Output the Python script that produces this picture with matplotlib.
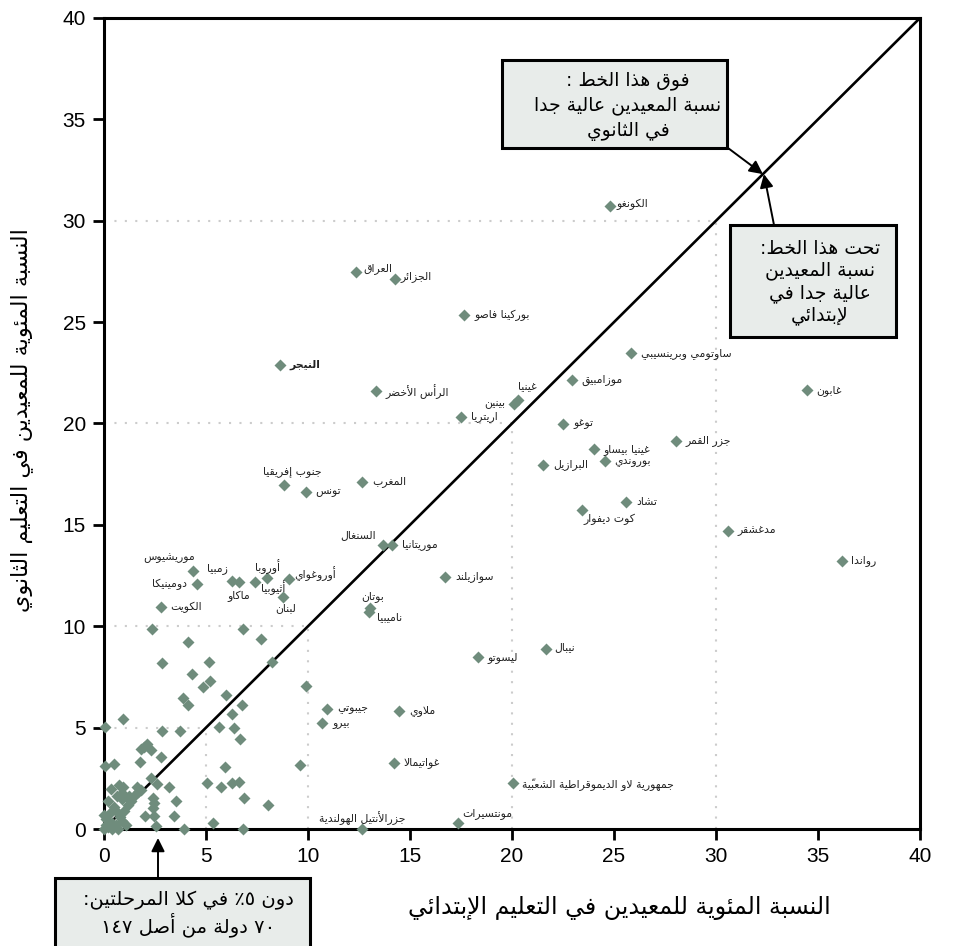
import re

import matplotlib
matplotlib.use("Agg")
import matplotlib.pyplot as plt
from matplotlib.patches import Rectangle

plt.rcParams["font.family"] = ["Liberation Sans", "DejaVu Sans"]

# repetition rates (%): primary (x) vs secondary (y)
LABELLED_NAMES = [
    "الكونغو", "العراق", "الجزائر", "بوركينا فاصو", "النيجر", "الرأس الأخضر",
    "اريتريا", "غينيا", "بينين", "ساوتومي وبرينسيبي", "موزامبيق", "توغو",
    "جزر القمر", "غينيا بيساو", "بوروندي", "البرازيل", "تشاد", "كوت ديفوار",
    "غابون", "مدغشقر", "رواندا", "جنوب إفريقيا", "تونس", "المغرب", "السنغال",
    "موريتانيا", "سوازيلند", "بوتان", "ناميبيا", "ليسوتو", "نيبال", "جيبوتي",
    "بيرو", "ملاوي", "غواتيمالا", "جمهورية لاو الديموقراطية الشعبيّة",
    "مونتسيرات", "جزرالأنتيل الهولندية", "موريشيوس", "دومينيكا", "الكويت",
    "زمبيا", "ماكاو", "أوروبا", "أثيوبيا", "أوروغواي", "لبنان",
]
LABELLED_PRIMARY = [
    24.8, 12.35, 14.26, 17.66, 8.63, 13.33,
    17.5, 20.3, 20.1, 25.83, 22.93, 22.52,
    28.02, 24.0, 24.56, 21.54, 25.6, 23.42,
    34.44, 30.57, 36.16, 8.84, 9.9, 12.65, 13.69,
    14.12, 16.74, 13.05, 12.98, 18.33, 21.67, 10.95,
    10.71, 14.47, 14.23, 20.03,
    17.36, 12.66, 4.38, 4.54, 2.79,
    6.26, 6.63, 7.42, 7.97, 9.07, 8.79,
]
LABELLED_SECONDARY = [
    30.74, 27.46, 27.13, 25.35, 22.87, 21.59,
    20.34, 21.15, 20.98, 23.46, 22.14, 19.98,
    19.14, 18.72, 18.17, 17.97, 16.12, 15.73,
    21.65, 14.70, 13.23, 16.97, 16.64, 17.13, 14.01,
    14.01, 12.45, 10.91, 10.72, 8.47, 8.86, 5.93,
    5.23, 5.82, 3.27, 2.25,
    0.30, 0.0, 12.74, 12.07, 10.93,
    12.23, 12.17, 12.18, 12.38, 12.33, 11.46,
]

OTHER_PRIMARY = [
    2.37, 6.80, 4.13, 7.68, 2.83, 5.16, 8.22, 4.30, 5.20, 4.84, 9.90, 5.96,
    3.86, 4.10, 6.78, 6.26, 0.95, 0.05, 2.86, 3.73, 5.65, 6.39, 6.67, 1.96,
    2.09, 1.81, 2.30, 2.79, 1.76, 0.05, 0.51, 9.61, 5.93, 2.30, 2.58, 3.20,
    5.03, 5.72, 6.26, 6.62, 0.75, 0.95, 0.34, 1.60, 1.68, 0.87, 2.42, 2.47,
    3.53, 6.86, 8.02, 2.01, 2.47, 3.45, 5.36, 2.55, 3.94, 6.80, 1.24, 0.62,
    2.42,
    0.0, 0.2, 0.4, 0.1, 0.6, 0.8, 0.3, 1.0, 0.5, 1.2, 0.9, 0.0, 0.7, 1.3,
    0.2, 1.1, 0.4, 1.5, 0.9, 0.6, 0.1, 1.8,
]
OTHER_SECONDARY = [
    9.86, 9.85, 9.22, 9.39, 8.17, 8.25, 8.25, 7.66, 7.32, 7.02, 7.07, 6.61,
    6.44, 6.10, 6.10, 5.66, 5.43, 5.01, 4.85, 4.85, 5.05, 5.00, 4.44, 4.06,
    4.19, 3.93, 3.90, 3.53, 3.32, 3.12, 3.19, 3.16, 3.07, 2.53, 2.20, 2.06,
    2.25, 2.06, 2.25, 2.30, 2.17, 2.09, 1.96, 2.09, 1.84, 1.76, 1.55, 1.30,
    1.38, 1.55, 1.18, 0.64, 0.64, 0.64, 0.31, 0.16, 0.0, 0.0, 1.63, 1.63,
    1.02,
    0.0, 0.1, 0.3, 0.5, 0.2, 0.6, 0.8, 0.9, 1.1, 1.2, 0.4, 0.7, 0.0, 1.4,
    1.4, 0.2, 0.0, 1.7, 1.5, 0.9, 0.2, 1.9,
]

TICKS = list(range(0, 41, 5))
GUIDES = [5, 10, 20, 30]

X_LABEL = "النسبة المئوية للمعيدين في التعليم الإبتدائي"
Y_LABEL = "النسبة المئوية للمعيدين في التعليم الثانوي"
ABOVE_NOTE = ["فوق هذا الخط :", "نسبة المعيدين عالية جدا", "في الثانوي"]
BELOW_NOTE = ["تحت هذا الخط:", "نسبة المعيدين", "عالية جدا في", "لإبتدائي"]
LOW_NOTE = ["دون ٥٪ في كلا المرحلتين:", "٧٠ دولة من أصل ١٤٧"]

# label offsets in points (dx, dy, ha) where they differ from "just right of the marker"
LABEL_PLACE = {
    "غينيا": (0, 10, "left"),
    "بينين": (-6, 0, "right"),
    "كوت ديفوار": (1, -7, "left"),
    "السنغال": (-5, 7, "right"),
    "بوتان": (2, 8, "center"),
    "ناميبيا": (6, -4, "left"),
    "مونتسيرات": (3, 7, "left"),
    "جزرالأنتيل الهولندية": (0, 8, "center"),
    "جنوب إفريقيا": (6, 10, "center"),
    "موريشيوس": (1, 9, "right"),
    "دومينيكا": (-7, 0, "right"),
    "زمبيا": (-3, 9, "right"),
    "ماكاو": (0, -10, "center"),
    "أوروبا": (0, 11, "left"),
    "أثيوبيا": (5, -7, "center"),
    "أوروغواي": (4, 4, "left"),
    "لبنان": (2, -8, "center"),
    "العراق": (5, 2.5, "left"),
    "الجزائر": (4, 1.5, "left"),
    "نيبال": (6, 2, "left"),
    "الكونغو": (5, 1, "left"),
}

# --- minimal Arabic shaping (matplotlib draws glyphs left to right, unjoined) ---
_BASES = [
    ("\u0621", 0xFE80, 1), ("\u0622", 0xFE81, 2), ("\u0623", 0xFE83, 2),
    ("\u0624", 0xFE85, 2), ("\u0625", 0xFE87, 2), ("\u0626", 0xFE89, 4),
    ("\u0627", 0xFE8D, 2), ("\u0628", 0xFE8F, 4), ("\u0629", 0xFE93, 2),
    ("\u062A", 0xFE95, 4), ("\u062B", 0xFE99, 4), ("\u062C", 0xFE9D, 4),
    ("\u062D", 0xFEA1, 4), ("\u062E", 0xFEA5, 4), ("\u062F", 0xFEA9, 2),
    ("\u0630", 0xFEAB, 2), ("\u0631", 0xFEAD, 2), ("\u0632", 0xFEAF, 2),
    ("\u0633", 0xFEB1, 4), ("\u0634", 0xFEB5, 4), ("\u0635", 0xFEB9, 4),
    ("\u0636", 0xFEBD, 4), ("\u0637", 0xFEC1, 4), ("\u0638", 0xFEC5, 4),
    ("\u0639", 0xFEC9, 4), ("\u063A", 0xFECD, 4), ("\u0641", 0xFED1, 4),
    ("\u0642", 0xFED5, 4), ("\u0643", 0xFED9, 4), ("\u0644", 0xFEDD, 4),
    ("\u0645", 0xFEE1, 4), ("\u0646", 0xFEE5, 4), ("\u0647", 0xFEE9, 4),
    ("\u0648", 0xFEED, 2), ("\u0649", 0xFEEF, 2), ("\u064A", 0xFEF1, 4),
]
FORMS = {ch: [chr(start + k) for k in range(n)] for ch, start, n in _BASES}
LAM_ALEF = {"\u0622": ("\uFEF5", "\uFEF6"), "\u0623": ("\uFEF7", "\uFEF8"),
            "\u0625": ("\uFEF9", "\uFEFA"), "\u0627": ("\uFEFB", "\uFEFC")}
MARKS = set(chr(c) for c in range(0x064B, 0x0653))


def _neighbour(text, i, step):
    j = i + step
    while 0 <= j < len(text) and text[j] in MARKS:
        j += step
    return text[j] if 0 <= j < len(text) else ""


def shape(text):
    out = []
    i = 0
    while i < len(text):
        c = text[i]
        prev = _neighbour(text, i, -1)
        nxt = _neighbour(text, i, 1)
        joins_prev = prev in FORMS and len(FORMS[prev]) == 4
        if c == "\u0644" and nxt in LAM_ALEF:
            iso, fin = LAM_ALEF[nxt]
            out.append(fin if joins_prev else iso)
            i += 1
            while text[i] != nxt:
                out.append(text[i])
                i += 1
            i += 1
            continue
        if c in FORMS:
            f = FORMS[c]
            joins_next = len(f) == 4 and nxt in FORMS and len(FORMS[nxt]) > 1
            if joins_prev and joins_next:
                out.append(f[3])
            elif joins_prev and len(f) > 1:
                out.append(f[1])
            elif joins_next:
                out.append(f[2])
            else:
                out.append(f[0])
        else:
            out.append(c)
        i += 1
    return "".join(out)


def ar(text):
    tokens = re.findall(r"[0-9\u0660-\u0669]+|.[\u064B-\u0652]*", shape(text))
    return "".join(reversed(tokens))


AR_FONT = ["DejaVu Sans"]
MARKER_COLOR = "#6f8c7c"
BOX_FILL = "#e8ecea"
W, H = 954, 946

fig = plt.figure(figsize=(W / 100, H / 100), dpi=100)
ax = fig.add_axes([104 / W, 1 - 829 / H, (920 - 104) / W, (829 - 18) / H])

for k in GUIDES:
    ax.plot([0, k], [k, k], color="#cccccc", lw=1.5, ls=(0, (1, 4)), zorder=1)
    ax.plot([k, k], [0, k], color="#cccccc", lw=1.5, ls=(0, (1, 4)), zorder=1)

ax.plot([0, 40], [0, 40], color="black", lw=1.9, zorder=2)

ax.plot(OTHER_PRIMARY, OTHER_SECONDARY, ls="none", marker="D", ms=6.2,
        color=MARKER_COLOR, mec="none", zorder=4, clip_on=False)
ax.plot(LABELLED_PRIMARY, LABELLED_SECONDARY, ls="none", marker="D", ms=6.2,
        color=MARKER_COLOR, mec="none", zorder=4, clip_on=False)

for name, x, y in zip(LABELLED_NAMES, LABELLED_PRIMARY, LABELLED_SECONDARY):
    dx, dy, ha = LABEL_PLACE.get(name, (7, 0, "left"))
    ax.annotate(ar(name), (x, y), xytext=(dx, dy), textcoords="offset points",
                ha=ha, va="center", fontsize=7.8, family=AR_FONT,
                fontweight="bold" if name == "النيجر" else "normal",
                color="#222222", zorder=5, annotation_clip=False)

ax.set_xlim(0, 40)
ax.set_ylim(0, 40)
ax.set_xticks(TICKS)
ax.set_yticks(TICKS)
ax.tick_params(direction="out", length=8, width=2, labelsize=15, pad=5)
for side in ax.spines.values():
    side.set_linewidth(2.2)


def note_box(lines, x0, y0, x1, y1, cx, cy, size, spacing):
    fig.patches.append(Rectangle((x0 / W, 1 - y1 / H), (x1 - x0) / W, (y1 - y0) / H,
                                 transform=fig.transFigure, facecolor=BOX_FILL,
                                 edgecolor="black", lw=2.2, zorder=6))
    fig.text(cx / W, 1 - cy / H, "\n".join(ar(s) for s in lines),
             ha="center", va="center", multialignment="center", fontsize=size,
             family=AR_FONT, linespacing=spacing, zorder=7)


note_box(ABOVE_NOTE, 502, 60, 727, 148, 628, 106, 13.5, 1.35)
note_box(BELOW_NOTE, 730, 225, 896, 337, 820, 282, 13.5, 1.2)
note_box(LOW_NOTE, 55, 878, 310, 960, 188, 914, 14, 1.15)

arrow = dict(arrowstyle="-|>", color="black", lw=1.4, mutation_scale=20, shrinkA=0, shrinkB=0)
ax.annotate("", xy=(32.3, 32.3), xytext=(728, H - 148), textcoords="figure pixels",
            arrowprops=arrow, annotation_clip=False)
ax.annotate("", xy=(32.35, 32.3), xytext=(774, H - 225), textcoords="figure pixels",
            arrowprops=arrow, annotation_clip=False)
ax.annotate("", xy=(158, H - 838), xycoords="figure pixels", xytext=(158, H - 878),
            textcoords="figure pixels", arrowprops=arrow, annotation_clip=False)

fig.text(619 / W, 1 - 908 / H, ar(X_LABEL), ha="center", va="center",
         fontsize=17, family=AR_FONT)
fig.text(22 / W, 1 - 420 / H, ar(Y_LABEL), ha="center", va="center",
         rotation=90, fontsize=16, family=AR_FONT)

fig.savefig("out.png", dpi=100)
